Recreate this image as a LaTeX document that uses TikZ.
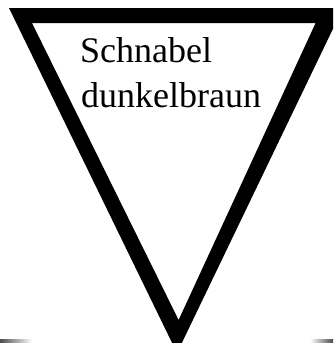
\documentclass[tikz,border=0pt]{standalone}
\usepackage{fontspec}
\setmainfont{Liberation Serif}
\begin{document}
\begin{tikzpicture}[x=1pt,y=-1pt,
  label/.style={anchor=base west,inner sep=0pt,font=\fontsize{36}{45}\selectfont,text=black}]
\useasboundingbox (0,0) rectangle (333,343);
\fill[white] (0,0) rectangle (333,343);
\begin{scope}
\clip (0,0) rectangle (333,343);
\fill[black,even odd rule]
  (9,8) -- (343,8) -- (177,353) -- cycle
  (32,23) -- (315.6,23) -- (178.6,320) -- cycle;
\shade[left color=black!70,right color=white] (0,339.5) rectangle (32,342.5);
\shade[left color=white,right color=black!70] (310,339.5) rectangle (333,342.5);
\end{scope}
\node[label] (l1) at (80,62) {Schnabel};
\node[label] (l2) at (81,107) {dunkelbraun};
\end{tikzpicture}
\end{document}
